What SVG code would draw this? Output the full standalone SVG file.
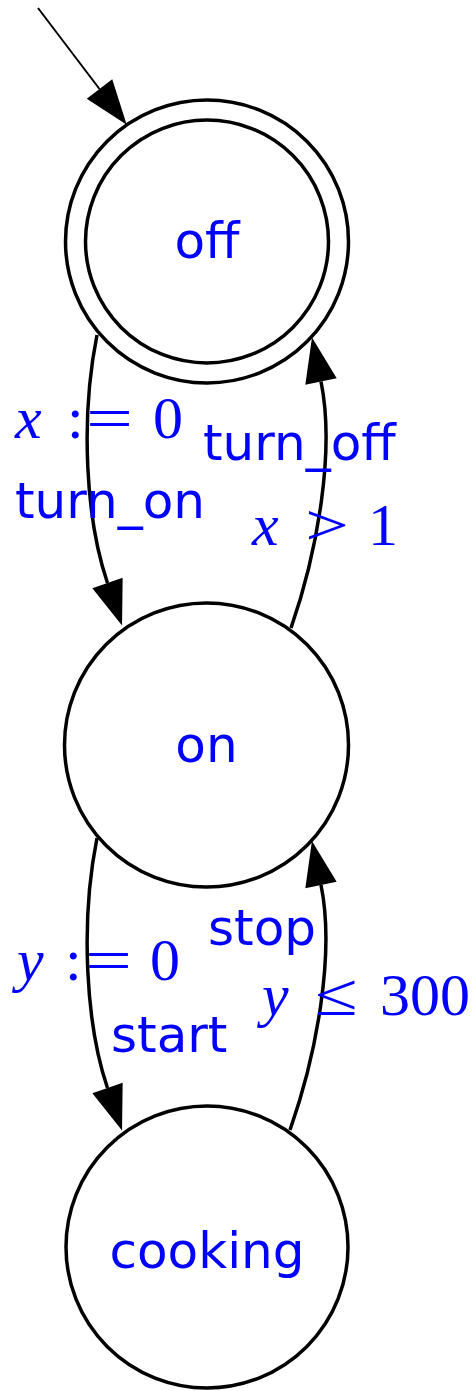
<svg xmlns="http://www.w3.org/2000/svg" width="475" height="1391" viewBox="0 0 475 1391">
<style>
.state{fill:#fff;stroke:#000;stroke-width:3.5}
.edge{fill:none;stroke:#000;stroke-width:3.5}
.init{fill:none;stroke:#000;stroke-width:2}
.lbl{font-family:"DejaVu Sans",sans-serif;font-size:50px;fill:#0000ff}
.node{font-family:"DejaVu Sans",sans-serif;font-size:50px;fill:#0000ff;text-anchor:middle}
.math{font-family:"Liberation Serif",serif;font-size:60px;fill:#0000ff}
.it{font-style:italic}
</style>
<defs>
<marker id="ah" markerUnits="userSpaceOnUse" markerWidth="46" markerHeight="32" refX="0" refY="16" orient="auto" overflow="visible">
<path d="M0,0 L45,16 L0,32 z" fill="#000"/>
</marker>
</defs>
<rect width="475" height="1391" fill="#fff"/>
<g id="connectors">
<path class="init" d="M38,8 L99.5,89" marker-end="url(#ah)"/>
<path class="edge" d="M97,335 C80,420 86,520 107.5,583" marker-end="url(#ah)"/>
<path class="edge" d="M291,628 C318,550 335,450 321,381.5" marker-end="url(#ah)"/>
<path class="edge" d="M97,838 C80,923 86,1025 107.5,1088" marker-end="url(#ah)"/>
<path class="edge" d="M290,1130 C317,1053 335,953 321,885" marker-end="url(#ah)"/>
</g>
<g id="off">
<circle class="state" cx="207" cy="241.5" r="141.5"/>
<circle class="state" cx="207" cy="241.5" r="121.5"/>
<text class="node" x="207" y="258">off</text>
</g>
<g id="on">
<circle class="state" cx="206.5" cy="745" r="142"/>
<text class="node" x="206.5" y="762">on</text>
</g>
<g id="cooking">
<circle class="state" cx="207" cy="1247" r="141"/>
<text class="node" x="207" y="1268">cooking</text>
</g>
<g id="labels">
<text class="math" y="438"><tspan class="it" x="15">x</tspan><tspan x="67">:</tspan></text>
<text class="math" x="86" y="438" textLength="47" lengthAdjust="spacingAndGlyphs">=</text>
<text class="math" x="153" y="438">0</text>
<text class="lbl" x="15" y="518">turn_on</text>
<text class="lbl" x="203" y="460">turn_off</text>
<text class="math" y="545"><tspan class="it" x="252">x</tspan></text>
<text class="math" x="305" y="545" textLength="44" lengthAdjust="spacingAndGlyphs">&gt;</text>
<text class="math" x="368" y="545">1</text>
<text class="math" y="980"><tspan class="it" x="17">y</tspan><tspan x="65">:</tspan></text>
<text class="math" x="85" y="980" textLength="47" lengthAdjust="spacingAndGlyphs">=</text>
<text class="math" x="150" y="980">0</text>
<text class="lbl" x="111" y="1052">start</text>
<text class="lbl" x="208" y="945">stop</text>
<text class="math" y="1015"><tspan class="it" x="262">y</tspan></text>
<text class="math" x="315" y="1015" textLength="43" lengthAdjust="spacingAndGlyphs">≤</text>
<text class="math" x="380" y="1015">300</text>
</g>
</svg>
